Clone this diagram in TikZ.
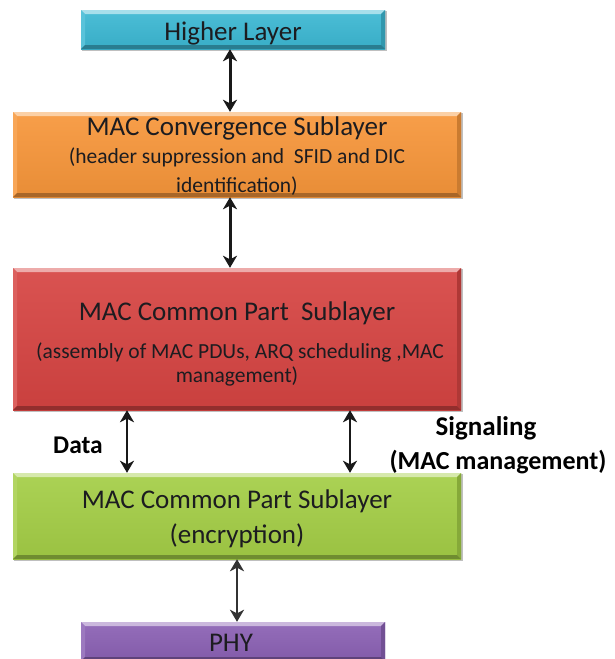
\documentclass[tikz,border=0pt]{standalone}
\usepackage{fontspec}
\setmainfont{Carlito}
\usetikzlibrary{arrows.meta,calc}

% layer colours
\definecolor{laycyan}{RGB}{60,184,211}
\definecolor{layorange}{RGB}{247,150,58}
\definecolor{layred}{RGB}{214,68,66}
\definecolor{laygreen}{RGB}{164,206,70}
\definecolor{laypurple}{RGB}{139,97,180}
\definecolor{inkc}{RGB}{28,28,32}

% bevelled edges of a layer box, drawn inside its path picture
\newcommand\bevelfill[1]{%
  \coordinate (bnw) at (path picture bounding box.north west);
  \coordinate (bne) at (path picture bounding box.north east);
  \coordinate (bsw) at (path picture bounding box.south west);
  \coordinate (bse) at (path picture bounding box.south east);
  \coordinate (inw) at ($(bnw)+(4pt,-4pt)$);
  \coordinate (ine) at ($(bne)+(-4pt,-4pt)$);
  \coordinate (isw) at ($(bsw)+(4pt,4pt)$);
  \coordinate (ise) at ($(bse)+(-4pt,4pt)$);
  \fill[#1!45!white] (bnw) -- (bne) -- (ine) -- (inw) -- cycle;
  \fill[#1!85!white] (bnw) -- (inw) -- (isw) -- (bsw) -- cycle;
  \fill[#1!82!black] (bne) -- (ine) -- (ise) -- (bse) -- cycle;
  \fill[#1!68!black] (bsw) -- (isw) -- (ise) -- (bse) -- cycle;
}

\tikzset{
  layer/.style={rectangle, inner sep=0pt, draw=none,
    top color=#1!92!white, bottom color=#1!94!black,
    path picture={\bevelfill{#1}}},
  shadowbox/.style={fill=black, opacity=0.25},
  title/.style={anchor=base, text=inkc, font=\fontsize{27}{32}\selectfont},
  subtitle/.style={anchor=base, text=inkc, font=\fontsize{21.5}{26}\selectfont},
  sidelabel/.style={anchor=base, text=black, font=\bfseries},
  biarrow/.style={{Stealth[length=12pt,width=14pt,inset=3.5pt]}-{Stealth[length=12pt,width=14pt,inset=3.5pt]},
    line width=2.6pt, draw=black!90},
}

\begin{document}
\begin{tikzpicture}[x=1pt, y=-1pt]
  \useasboundingbox (0,0) rectangle (615,659);

  % soft shadows under the boxes
  \fill[shadowbox] (82,11) rectangle (387,51);
  \fill[shadowbox] (14,113) rectangle (463,199);
  \fill[shadowbox] (14,269) rectangle (463,412);
  \fill[shadowbox] (14,474) rectangle (463,561);

  % layer boxes
  \node[layer=laycyan,   minimum width=304pt, minimum height=39pt]  (hl)   at (233,29.5) {};
  \node[layer=layorange, minimum width=448pt, minimum height=85pt]  (conv) at (237,154.5) {};
  \node[layer=layred,    minimum width=448pt, minimum height=142pt] (cps)  at (237,339) {};
  \node[layer=laygreen,  minimum width=448pt, minimum height=86pt]  (enc)  at (237,516) {};
  \node[layer=laypurple, minimum width=304pt, minimum height=39pt]  (phy)  at (233,641.5) {};

  % box texts
  \node[title] (hltext) at (233,40) {Higher Layer};

  \node[title]    (convt1) at (237,135) {MAC Convergence Sublayer};
  \node[subtitle] (convt2) at (237,163) {(header suppression and~ SFID and DIC};
  \node[subtitle] (convt3) at (237,192) {identification)};

  \node[title]    (cpst1) at (237,320) {MAC Common Part~ Sublayer};
  \node[subtitle] (cpst2) at (240,358) {(assembly of MAC PDUs, ARQ scheduling ,MAC};
  \node[subtitle] (cpst3) at (237,382) {management)};

  \node[title] (enct1) at (237,508) {MAC Common Part Sublayer};
  \node[title] (enct2) at (237,543) {(encryption)};

  \node[title] (phytext) at (231,651) {PHY};

  % side labels
  \node[sidelabel, font=\bfseries\fontsize{25.5}{30}\selectfont] (datalbl) at (78,453) {Data};
  \node[sidelabel, font=\bfseries\fontsize{27}{32}\selectfont] (siglbl) at (486,435) {Signaling};
  \node[sidelabel, font=\bfseries\fontsize{26}{30}\selectfont] (mgmtlbl) at (498,469) {(MAC management)};

  % connectors
  \draw[biarrow, line width=3pt] ([xshift=-3pt]hl.south) -- ([xshift=-7pt]conv.north);
  \draw[biarrow, line width=3pt] ([xshift=-7pt]conv.south) -- ([xshift=-7pt]cps.north);
  \draw[biarrow] ([xshift=-110pt]cps.south) -- ([xshift=-110pt]enc.north);
  \draw[biarrow] ([xshift=113pt]cps.south) -- ([xshift=113pt]enc.north);
  \draw[biarrow, line width=2.2pt, draw=black!80] (enc.south) -- ([xshift=4pt]phy.north);
\end{tikzpicture}
\end{document}
